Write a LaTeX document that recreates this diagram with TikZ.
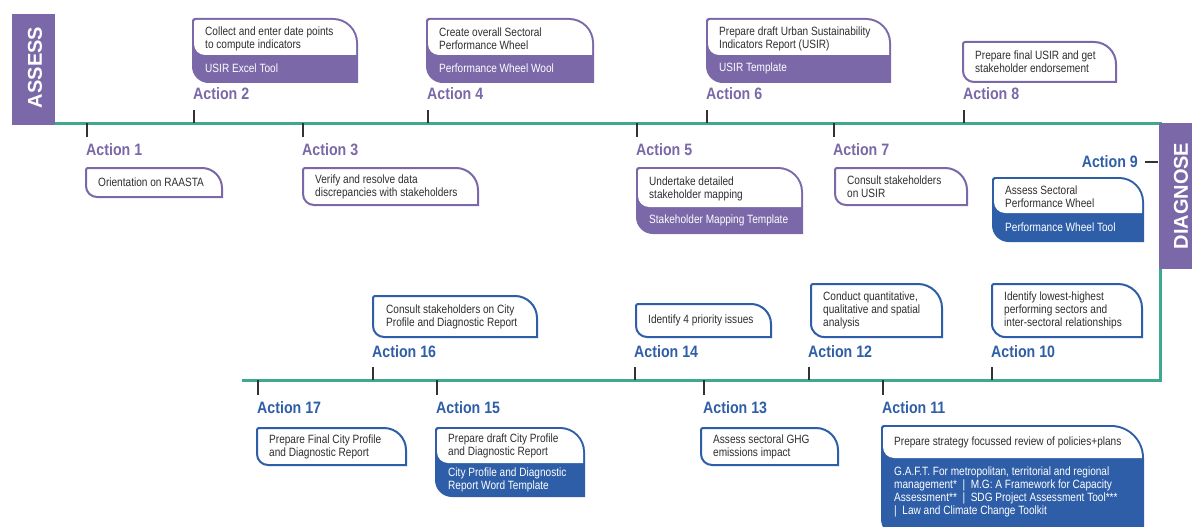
\documentclass[tikz,border=0pt]{standalone}
\usepackage{fontspec}
\setmainfont{Liberation Sans}
\newfontfamily\cardfont[FakeStretch=0.84]{Liberation Sans}
\newfontfamily\labelfont[FakeStretch=0.86]{Liberation Sans}

\definecolor{phasepurple}{HTML}{7B68A8}
\definecolor{phaseblue}{HTML}{2F5EA8}
\definecolor{linegreen}{HTML}{3FAA8B}
\definecolor{tickgray}{HTML}{333333}
\definecolor{textgray}{HTML}{2E2E2E}

\tikzset{
  cardtext/.style={anchor=west, inner sep=0pt, align=left, text=textgray,
    font=\cardfont\fontsize{12}{13}\selectfont},
  foottext/.style={cardtext, text=white},
  actlabel/.style={anchor=west, inner sep=0pt,
    font=\labelfont\bfseries\fontsize{16.5}{18}\selectfont},
  timeline/.style={draw=linegreen, line width=3pt},
  tickmark/.style={draw=tickgray, line width=1.6pt},
  phasetext/.style={text=white, rotate=90, inner sep=0pt,
    font=\bfseries\fontsize{20}{22}\selectfont},
}

% card outline: style, x1, y1, x2, y2, radius of the top-right corner
% (the bottom-left corner grows a little with the card's height)
\newcommand\cardpath[6]{%
  \pgfmathsetmacro\crdxa{#2}\pgfmathsetmacro\crdya{#3}%
  \pgfmathsetmacro\crdxb{#4}\pgfmathsetmacro\crdyb{#5}%
  \pgfmathsetmacro\crdr{#6}\pgfmathsetmacro\crdk{0.448*\crdr}%
  \pgfmathsetmacro\crds{min(16,max(11,0.25*(\crdyb-\crdya)))}%
  \pgfmathsetmacro\crdt{0.448*\crds}%
  \path[#1] (\crdxa,\crdya+2) .. controls (\crdxa,\crdya+0.9) and (\crdxa+0.9,\crdya) .. (\crdxa+2,\crdya)
    -- (\crdxb-\crdr,\crdya) .. controls (\crdxb-\crdk,\crdya) and (\crdxb,\crdya+\crdk) .. (\crdxb,\crdya+\crdr)
    -- (\crdxb,\crdyb) -- (\crdxa+\crds,\crdyb) .. controls (\crdxa+\crdt,\crdyb) and (\crdxa,\crdyb-\crdt) .. (\crdxa,\crdyb-\crds)
    -- cycle;}
% plain card: colour, x1, y1, x2, y2, radius
\newcommand\plaincard[6]{\cardpath{draw=#1,fill=white,line width=2pt}{#2}{#3}{#4}{#5}{#6}}
% card with a tool footer: colour, x1, y1, x2, y2, radius, top of footer
\newcommand\toolcard[7]{%
  \cardpath{draw=#1,fill=#1,line width=2pt}{#2}{#3}{#4}{#5}{#6}%
  \cardpath{fill=white}{#2+1}{#3+1}{#4-1}{#7}{#6-1}}

\begin{document}
\begin{tikzpicture}[x=1pt,y=-1pt]
\useasboundingbox (0,0) rectangle (1192,527);
\clip (0,0) rectangle (1192,527);
\fill[white] (0,0) rectangle (1192,527);

% timeline
\draw[timeline] (55,123) -- (1160,123) -- (1160,380) -- (242,380);

% phase boxes
\fill[phasepurple] (12,14) rectangle (55,125);
\node[phasetext] (assess) at (35,67.5) {ASSESS};
\fill[phasepurple] (1159,123) rectangle (1192,269);
\node[phasetext] (diagnose) at (1181,196) {DIAGNOSE};

% ticks on the upper line
\foreach \tx in {194,428,707,964} \draw[tickmark] (\tx,110) -- (\tx,123);
\foreach \tx in {87,303,637,834} \draw[tickmark] (\tx,123) -- (\tx,137);
\draw[tickmark] (1145,162) -- (1158,162);
% ticks on the lower line
\foreach \tx in {373,635,809,992} \draw[tickmark] (\tx,367) -- (\tx,380);
\foreach \tx in {258,437,704,883} \draw[tickmark] (\tx,380) -- (\tx,395);

% action labels
\node[actlabel, text=phasepurple] (l1) at (86,150) {Action 1};
\node[actlabel, text=phasepurple] (l2) at (193,94) {Action 2};
\node[actlabel, text=phasepurple] (l3) at (302,150) {Action 3};
\node[actlabel, text=phasepurple] (l4) at (427,94) {Action 4};
\node[actlabel, text=phasepurple] (l5) at (636,150) {Action 5};
\node[actlabel, text=phasepurple] (l6) at (706,94) {Action 6};
\node[actlabel, text=phasepurple] (l7) at (833,150) {Action 7};
\node[actlabel, text=phasepurple] (l8) at (963,94) {Action 8};
\node[actlabel, text=phaseblue, anchor=east] (l9) at (1138,162) {Action 9};
\node[actlabel, text=phaseblue] (l10) at (991,352) {Action 10};
\node[actlabel, text=phaseblue] (l11) at (882,408) {Action 11};
\node[actlabel, text=phaseblue] (l12) at (808,352) {Action 12};
\node[actlabel, text=phaseblue] (l13) at (703,408) {Action 13};
\node[actlabel, text=phaseblue] (l14) at (634,352) {Action 14};
\node[actlabel, text=phaseblue] (l15) at (436,408) {Action 15};
\node[actlabel, text=phaseblue] (l16) at (372,352) {Action 16};
\node[actlabel, text=phaseblue] (l17) at (257,408) {Action 17};

% ---- assess cards ----
\plaincard{phasepurple}{86}{168}{222}{197}{20}
\node[cardtext] (c1) at (98,182.5) {Orientation on RAASTA};

\toolcard{phasepurple}{193}{19}{357}{82}{24}{55}
\node[cardtext] (c2) at (205,38.5) {Collect and enter date points\\to compute indicators};
\node[foottext] (f2) at (205,68.5) {USIR Excel Tool};

\plaincard{phasepurple}{303}{168}{478}{205}{22}
\node[cardtext] (c3) at (315,186.5) {Verify and resolve data\\discrepancies with stakeholders};

\toolcard{phasepurple}{427}{19}{593}{82}{24}{55}
\node[cardtext] (c4) at (439,38.5) {Create overall Sectoral\\Performance Wheel};
\node[foottext] (f4) at (439,68.5) {Performance Wheel Wool};

\toolcard{phasepurple}{637}{168}{802}{233}{24}{207}
\node[cardtext] (c5) at (649,189) {Undertake detailed\\stakeholder mapping};
\node[foottext] (f5) at (649,220) {Stakeholder Mapping Template};

\toolcard{phasepurple}{707}{19}{890}{82}{24}{55}
\node[cardtext] (c6) at (719,38.5) {Prepare draft Urban Sustainability\\Indicators Report (USIR)};
\node[foottext] (f6) at (719,68.5) {USIR Template};

\plaincard{phasepurple}{835}{168}{967}{205}{22}
\node[cardtext] (c7) at (847,186.5) {Consult stakeholders\\on USIR};

\plaincard{phasepurple}{963}{42}{1116}{82}{22}
\node[cardtext] (c8) at (975,62) {Prepare final USIR and get\\stakeholder endorsement};

% ---- diagnose cards ----
\toolcard{phaseblue}{993}{178}{1143}{241}{24}{213}
\node[cardtext] (c9) at (1005,196.5) {Assess Sectoral\\Performance Wheel};
\node[foottext] (f9) at (1005,227) {Performance Wheel Tool};

\plaincard{phaseblue}{992}{284}{1142}{337}{24}
\node[cardtext] (c10) at (1004,310.5) {Identify lowest-highest\\performing sectors and\\inter-sectoral relationships};

\toolcard{phaseblue}{882}{426}{1143}{535}{32}{458}
\node[cardtext] (c11) at (894,442) {Prepare strategy focussed review of policies+plans};
\node[foottext] (f11) at (894,491.5) {G.A.F.T. For metropolitan, territorial and regional\\management*\ \ |\ \ M.G: A Framework for Capacity\\Assessment**\ \ |\ \ SDG Project Assessment Tool***\\|\ \ Law and Climate Change Toolkit};

\plaincard{phaseblue}{811}{284}{942}{337}{24}
\node[cardtext] (c12) at (823,310.5) {Conduct quantitative,\\qualitative and spatial\\analysis};

\plaincard{phaseblue}{701}{428}{838}{465}{22}
\node[cardtext] (c13) at (713,446.5) {Assess sectoral GHG\\emissions impact};

\plaincard{phaseblue}{636}{304}{771}{337}{20}
\node[cardtext] (c14) at (648,320.5) {Identify 4 priority issues};

\toolcard{phaseblue}{436}{428}{584}{496}{24}{463}
\node[cardtext] (c15) at (448,445.5) {Prepare draft City Profile\\and Diagnostic Report};
\node[foottext] (f15) at (448,480) {City Profile and Diagnostic\\Report Word Template};

\plaincard{phaseblue}{373}{296}{537}{337}{22}
\node[cardtext] (c16) at (386,316.5) {Consult stakeholders on City\\Profile and Diagnostic Report};

\plaincard{phaseblue}{257}{428}{406}{465}{22}
\node[cardtext] (c17) at (269,446.5) {Prepare Final City Profile\\and Diagnostic Report};
\end{tikzpicture}
\end{document}
